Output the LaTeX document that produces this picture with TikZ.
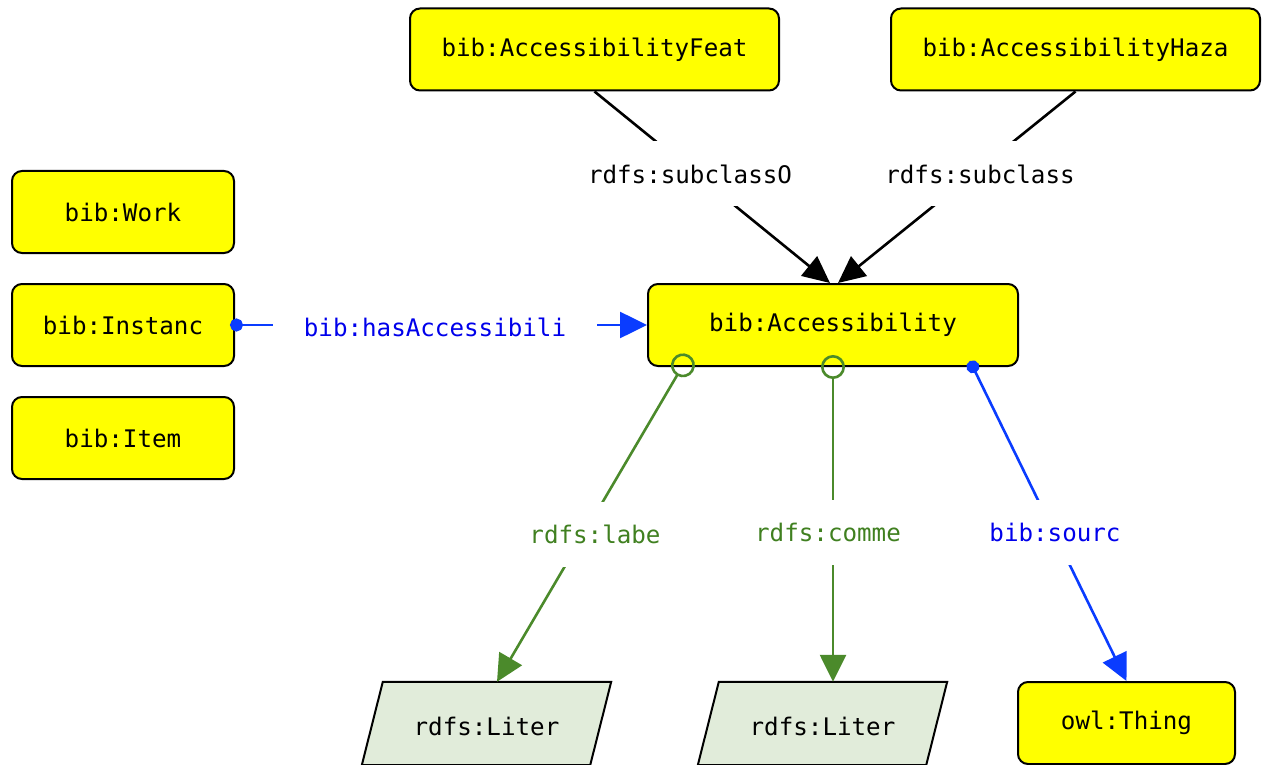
\documentclass[tikz,border=0pt]{standalone}
\usepackage{fontspec}
\setmonofont{DejaVu Sans Mono}
\usetikzlibrary{arrows.meta,calc}
\pgfdeclarelayer{background}
\pgfsetlayers{background,main}
\definecolor{edgeblue}{RGB}{10,60,255}
\definecolor{txtblue}{RGB}{0,0,235}
\definecolor{edgegreen}{RGB}{75,138,43}
\definecolor{txtgreen}{RGB}{64,128,32}
\definecolor{litfill}{RGB}{225,236,218}
\definecolor{boxyellow}{RGB}{255,255,0}
\begin{document}
\begin{tikzpicture}[x=1pt,y=-1pt,
  mono/.style={font=\ttfamily\fontsize{24.2}{28}\selectfont},
  cls/.style={mono, draw=black, line width=2pt, rounded corners=10pt, fill=boxyellow, minimum height=82pt, inner sep=0pt},
  lit/.style={mono, minimum width=249pt, minimum height=83pt, inner sep=0pt},
  litshape/.style={draw=black, line width=2pt, fill=litfill},
  lbl/.style={mono, fill=white, inner xsep=31pt, inner ysep=0pt, minimum height=65pt},
  blk/.style={draw=black, line width=2.6pt, -{Triangle[length=27pt,width=25pt]}},
  bl/.style={draw=edgeblue, line width=2.6pt, {Circle[length=13pt]}-{Triangle[length=27pt,width=26pt]}},
  gr/.style={draw=edgegreen, line width=2.6pt, {Circle[open,length=24pt]}-{Triangle[length=27pt,width=26pt]}}
]
\useasboundingbox (0,0) rectangle (1262,765);

\node[cls, minimum width=369pt] (feat) at (594.5,49.5) {bib:AccessibilityFeat};
\node[cls, minimum width=369pt] (haza) at (1075.5,49.5) {bib:AccessibilityHaza};
\node[cls, minimum width=222pt] (work) at (123,212) {bib:Work};
\node[cls, minimum width=222pt] (inst) at (123,325) {bib:Instanc};
\node[cls, minimum width=222pt] (item) at (123,438) {bib:Item};
\node[cls, minimum width=370pt] (acc) at (833,325) {bib:Accessibility};
\node[lit] (lit1) at (486.5,726.5) {rdfs:Liter};
\node[lit] (lit2) at (822.5,726.5) {rdfs:Liter};
\node[cls, minimum width=217pt] (thing) at (1126.5,723) {owl:Thing};

\begin{pgfonlayer}{background}
\foreach \n in {lit1,lit2}{
  \draw[litshape] ($(\n.south west)+(0,-3)$) -- ($(\n.south east)+(-21,-3)$) -- ($(\n.north east)+(0,-3)$) -- ($(\n.north west)+(21,-3)$) -- cycle;
}
\end{pgfonlayer}

\coordinate (lit1top) at ($(lit1.north)+(10.5,-3)$);
\coordinate (lit2top) at ($(lit2.north)+(10.5,-3)$);

\draw[blk] (feat.south) -- ($(acc.north)+(-3,0)$);
\draw[blk] (haza.south) -- ($(acc.north)+(5,0)$);
\draw[bl] ($(inst.east)+(-5,0)$) -- (acc.west);
\draw[gr] ($(acc.south west)+(42,-12)$) -- (lit1top);
\draw[gr] ($(acc.south)+(0,-12)$) -- (lit2top);
\draw[bl] ($(acc.south east)+(-49,-6)$) -- (thing.north);

\node[lbl] (l1) at (690,174) {rdfs:subclassO};
\node[lbl] (l2) at (980,174) {rdfs:subclass};
\node[lbl, text=txtblue] (l3) at (435,327) {bib:hasAccessibili};
\node[lbl, text=txtgreen] (l4) at (595,534) {rdfs:labe};
\node[lbl, text=txtgreen] (l5) at (828,532) {rdfs:comme};
\node[lbl, text=txtblue] (l6) at (1055,532) {bib:sourc};
\end{tikzpicture}
\end{document}
